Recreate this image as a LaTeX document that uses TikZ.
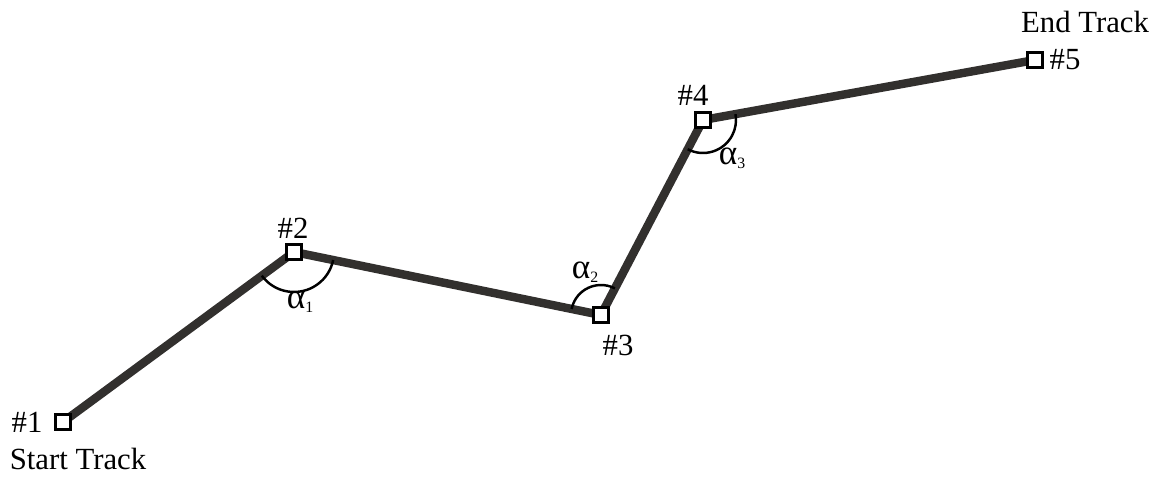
\documentclass[tikz,border=0pt]{standalone}
\usepackage{fontspec}
\setmainfont{Liberation Serif}
\definecolor{trackgray}{RGB}{50,48,46}
\usetikzlibrary{angles,positioning}
\newcommand{\turnlabel}[1]{{\fontsize{20}{20}\selectfont α}\raisebox{-0.3ex}{\fontsize{9}{10}\selectfont #1}}

\begin{document}
\begin{tikzpicture}[
          waypoint/.style={rectangle,draw=black,fill=white,line width=1.8pt,
            minimum size=0.31cm,inner sep=0pt},
          lbl/.style={font=\fontsize{17.5}{20}\selectfont,inner sep=1pt},
          track/.style={line width=4.8pt,trackgray},
          turn/.style={draw,line width=1.4pt}]
          \useasboundingbox (0,0) rectangle (23.22,9.54);
          % waypoints of the track
          \coordinate (p1) at (1.26,1.10);
          \coordinate (p2) at (5.88,4.50);
          \coordinate (p3) at (12.02,3.24);
          \coordinate (p4) at (14.06,7.14);
          \coordinate (p5) at (20.70,8.34);
          \draw[track] (p1)--(p2)--(p3)--(p4)--(p5);
          % turning angles
          \pic[turn,angle radius=0.8cm]  {angle=p1--p2--p3};
          \pic[turn,angle radius=0.6cm]  {angle=p4--p3--p2};
          \pic[turn,angle radius=0.66cm] {angle=p3--p4--p5};
          \node[waypoint] (w1) at (p1) {};
          \node[waypoint] (w2) at (p2) {};
          \node[waypoint] (w3) at (p3) {};
          \node[waypoint] (w4) at (p4) {};
          \node[waypoint] (w5) at (p5) {};
          % labels
          \node[lbl] (n1) at (0.54,1.10)  {\#1};
          \node[lbl] (start) at (1.56,0.36) {Start Track};
          \node[lbl] (n2) at (5.86,4.98)  {\#2};
          \node[lbl] (n3) at (12.36,2.64) {\#3};
          \node[lbl] (n4) at (13.86,7.64) {\#4};
          \node[lbl] (n5) at (21.30,8.34) {\#5};
          \node[lbl] (end) at (21.70,9.10) {End Track};
          \node[lbl] (a1) at (6.00,3.50)  {\turnlabel{1}};
          \node[lbl] (a2) at (11.70,4.10) {\turnlabel{2}};
          \node[lbl] (a3) at (14.64,6.38) {\turnlabel{3}};
        \end{tikzpicture}
\end{document}
